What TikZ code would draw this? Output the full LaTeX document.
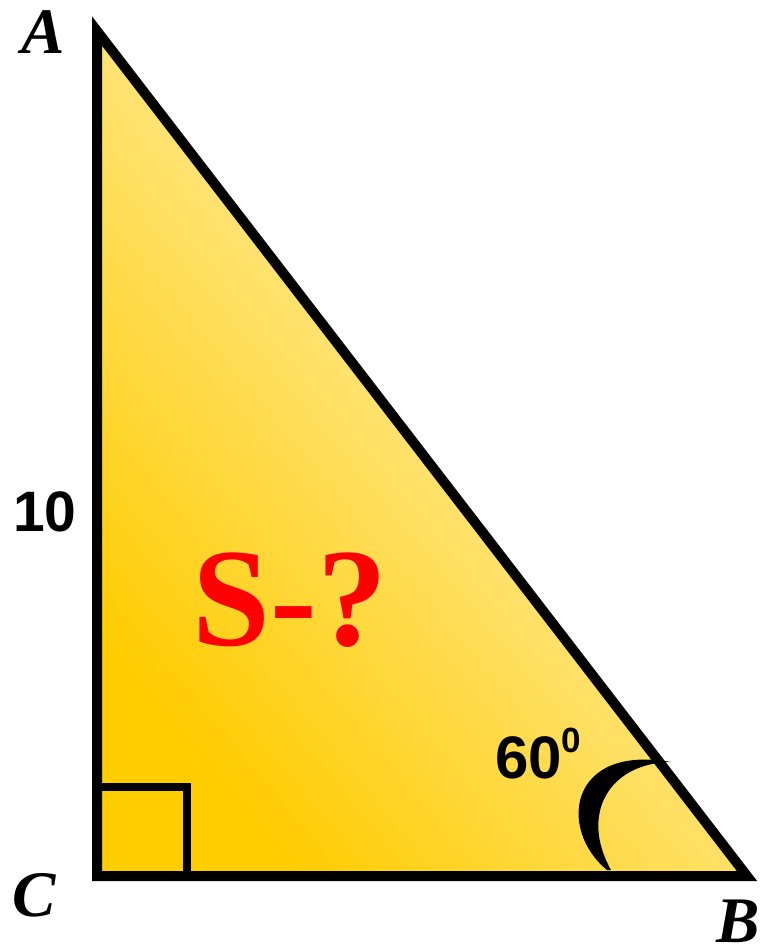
\documentclass[tikz,border=0pt]{standalone}
\usepackage{fontspec}
\setmainfont{Liberation Serif}
\newfontfamily\sansb{Liberation Sans}
\definecolor{goldA}{RGB}{255,246,208}
\definecolor{goldM}{RGB}{255,226,110}
\definecolor{goldC}{RGB}{255,204,0}
\definecolor{redS}{RGB}{255,0,0}
\begin{document}
\begin{tikzpicture}[x=1pt,y=-1pt,
  vlabel/.style={inner sep=0pt, anchor=base, text depth=0pt, font=\fontsize{65}{65}\selectfont\bfseries\itshape},
  numlabel/.style={inner sep=0pt, anchor=base, font=\sansb\bfseries\fontsize{57}{57}\selectfont},
  side/.style={line width=10pt, line join=miter},
  rightmark/.style={line width=8pt, line join=miter}]
\useasboundingbox (0,0) rectangle (761,946);
\coordinate (A) at (97,31);
\coordinate (B) at (747,876);
\coordinate (C) at (97,876);
\coordinate (Q1) at (97,787);
\coordinate (Q2) at (187,787);
\coordinate (Q3) at (187,876);
% fill
\path[top color=goldA, bottom color=goldC, middle color=goldM, shading angle=-50] (A) -- (B) -- (C) -- cycle;
% right angle mark
\draw[rightmark] (Q1) -- (Q2) -- (Q3);
% triangle
\draw[side] (A) -- (B) -- (C) -- cycle;
% angle mark at B (crescent)
\fill[black] (607,870) .. controls (558,830) and (568,744) .. (671,762)
  .. controls (608,763) and (580,815) .. (611,870) -- cycle;
% labels
\node[vlabel] (lA) at (43,53) {A};
\node[vlabel] (lC) at (34,916) {C};
\node[vlabel] (lB) at (738,942) {B};
\node[numlabel] (l10) at (45,531) {10};
\node[inner sep=0pt, anchor=base west, font=\sansb\bfseries\fontsize{60}{60}\selectfont] (l60) at (495,778) {60\raisebox{26pt}{\fontsize{35}{35}\selectfont 0}};
\node[inner sep=0pt, anchor=base, text=redS, font=\fontsize{140}{140}\selectfont\bfseries] (lS) at (290,645) {S-?};
\end{tikzpicture}
\end{document}
